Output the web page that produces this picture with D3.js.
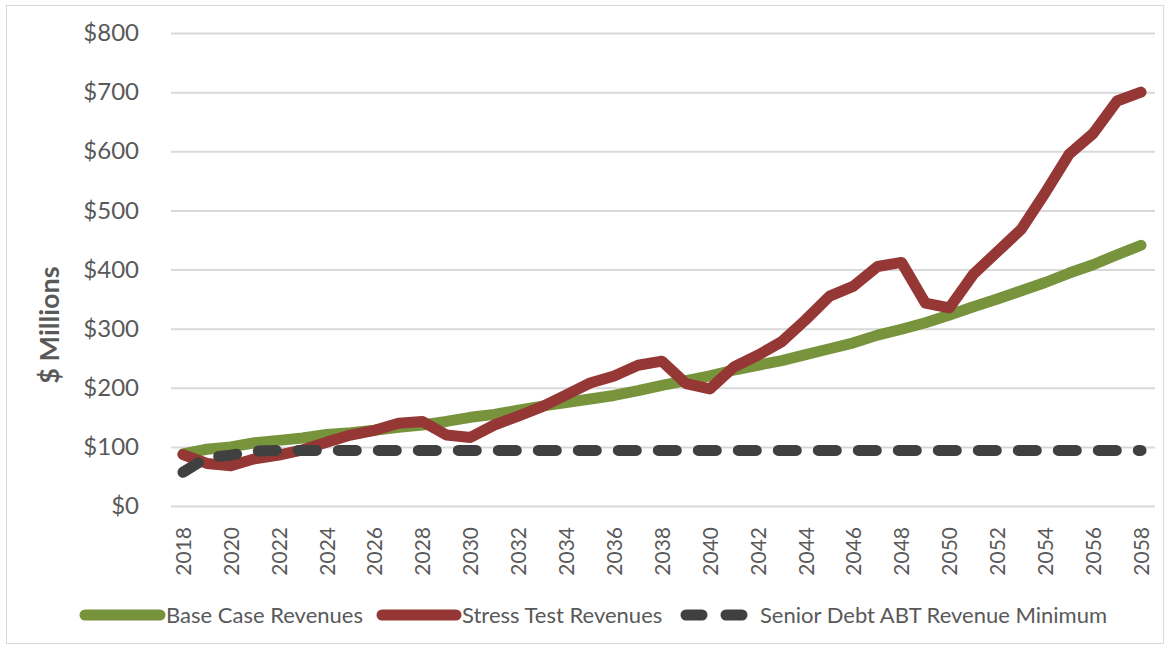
<html>

<head>
    <title>Revenues</title>
    <script src='https://d3js.org/d3.v7.min.js'></script>
    <style>
        body { margin: 0; background: #fff; }
        text { font-family: Lato, 'Open Sans', sans-serif; fill: #595959; }
    </style>
</head>

<body>
    <svg id="chart"></svg>
    <script>
        // data ($ millions)
        var years = d3.range(2018, 2059);
        var baseCase = [88, 96, 100, 107, 111, 115, 121, 124, 128, 133, 137, 143, 150, 155, 162, 169, 175, 181, 187, 195,
            204, 212, 220, 230, 238, 246, 256, 266, 276, 289, 299, 310, 323, 337, 350, 364, 378, 394, 408, 425, 441];
        var stressTest = [87, 72, 68, 80, 86, 95, 108, 120, 128, 140, 143, 120, 116, 137, 152, 168, 188, 208, 220, 238,
            245, 207, 198, 235, 255, 278, 315, 355, 372, 405, 412, 343, 335, 392, 430, 468, 530, 595, 630, 685, 700];
        var seniorDebt = [57, 82, 86, 93, 94, 94, 94, 94, 94, 94, 94, 94, 94, 94, 94, 94, 94, 94, 94, 94,
            94, 94, 94, 94, 94, 94, 94, 94, 94, 94, 94, 94, 94, 94, 94, 94, 94, 94, 94, 94, 94];
        var yTicks = [0, 100, 200, 300, 400, 500, 600, 700, 800];
        var seriesNames = ["Base Case Revenues", "Stress Test Revenues", "Senior Debt ABT Revenue Minimum"];
        var seriesColors = ["#77933C", "#953735", "#404040"];

        var W = 1169, H = 648;
        var plotLeft = 171, plotRight = 1153, plotTop = 33, plotBottom = 506;

        var svg = d3.select("#chart").attr("width", W).attr("height", H);

        svg.append("rect")
            .attr("x", 6.5).attr("y", 5.5)
            .attr("width", 1157).attr("height", 638)
            .attr("fill", "none").attr("stroke", "#D9D9D9");

        var x = d3.scalePoint().domain(years).range([plotLeft, plotRight]).padding(0.5);
        var y = d3.scaleLinear().domain([0, 800]).range([plotBottom, plotTop]);

        // y axis + gridlines
        var yAxis = svg.append("g")
            .attr("transform", "translate(" + plotLeft + ",0)")
            .call(d3.axisLeft(y).tickValues(yTicks).tickSize(-(plotRight - plotLeft + 2)).tickPadding(32)
                .tickFormat(function (d) { return "$" + d; }));
        yAxis.select(".domain").remove();
        yAxis.selectAll("line").attr("stroke", "#D9D9D9").attr("stroke-width", 2);
        yAxis.selectAll("text").attr("font-size", 24).attr("fill", "#595959")
            .attr("font-family", "'Open Sans', sans-serif");

        // x axis labels
        var xAxis = svg.append("g")
            .attr("transform", "translate(0," + plotBottom + ")")
            .call(d3.axisBottom(x).tickValues(years.filter(function (d) { return d % 2 === 0; })).tickSize(0));
        xAxis.select(".domain").remove();
        xAxis.selectAll("text")
            .attr("font-size", 21).attr("fill", "#595959")
            .attr("font-family", "'Open Sans', sans-serif")
            .attr("transform", "rotate(-90)")
            .attr("text-anchor", "end")
            .attr("x", -21).attr("y", 0).attr("dy", "0.35em");

        svg.append("text")
            .attr("transform", "translate(50,325) rotate(-90)")
            .attr("text-anchor", "middle").attr("dy", "0.35em")
            .attr("font-family", "'Open Sans', sans-serif")
            .attr("font-size", 27).attr("font-weight", "bold")
            .text("$ Millions");

        var line = d3.line()
            .x(function (d, i) { return x(years[i]); })
            .y(function (d) { return y(d); });

        var allSeries = [baseCase, stressTest, seniorDebt];
        allSeries.forEach(function (s, i) {
            svg.append("path")
                .datum(s)
                .attr("d", line)
                .attr("fill", "none")
                .attr("stroke", seriesColors[i])
                .attr("stroke-width", 11)
                .attr("stroke-linejoin", "round")
                .attr("stroke-linecap", "round")
                .attr("stroke-dasharray", i === 2 ? "18,22" : null);
        });

        // legend
        var legendY = 615;
        var legendPos = [[85, 160, 166], [382, 456, 462], [686, 746, 760]];
        legendPos.forEach(function (p, i) {
            svg.append("line")
                .attr("x1", p[0]).attr("x2", p[1])
                .attr("y1", legendY).attr("y2", legendY)
                .attr("stroke", seriesColors[i])
                .attr("stroke-width", 11)
                .attr("stroke-linecap", "round")
                .attr("stroke-dasharray", i === 2 ? "16,24" : null);
            svg.append("text")
                .attr("x", p[2]).attr("y", legendY).attr("dy", "0.35em")
                .attr("font-size", 22)
                .text(seriesNames[i]);
        });
    </script>
</body>

</html>
